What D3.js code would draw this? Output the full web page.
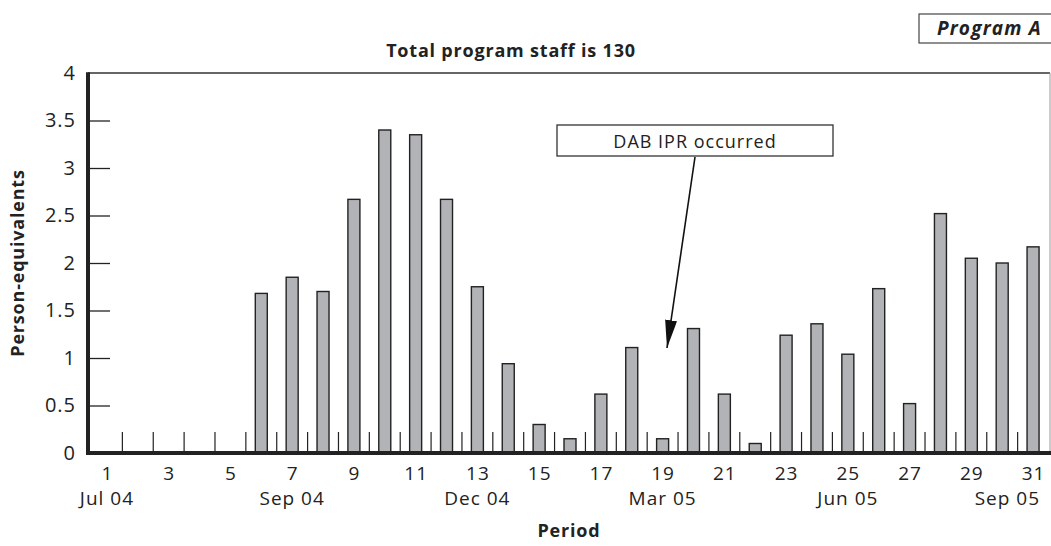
<!DOCTYPE html>
<html>
<head>
<meta charset="utf-8">
<script src="https://cdn.jsdelivr.net/npm/d3@7"></script>
<style>
  body { margin: 0; background: #fff; }
  svg { display: block; font-family: "Open Sans", sans-serif; }
</style>
</head>
<body>
<div id="chart"></div>
<script>
// Person-equivalents per period (periods 1..31)
const periods = d3.range(1, 32);
const personEquivalents = [
  0, 0, 0, 0, 0, 1.68, 1.85, 1.70, 2.67, 3.40,
  3.35, 2.67, 1.75, 0.94, 0.30, 0.15, 0.62, 1.11, 0.15, 1.31,
  0.62, 0.10, 1.24, 1.36, 1.04, 1.73, 0.52, 2.52, 2.05, 2.00,
  2.17
];
const periodLabels = [1, 3, 5, 7, 9, 11, 13, 15, 17, 19, 21, 23, 25, 27, 29, 31];
const monthLabels = [
  { period: 1, text: 'Jul 04' },
  { period: 7, text: 'Sep 04' },
  { period: 13, text: 'Dec 04' },
  { period: 19, text: 'Mar 05' },
  { period: 25, text: 'Jun 05' },
  { period: 31, text: 'Sep 05' }
];
const yTicks = [0, 0.5, 1, 1.5, 2, 2.5, 3, 3.5, 4];

const width = 1051, height = 546;
const plotLeft = 91.5, plotRight = 1048.5, plotTop = 73, plotBottom = 453;

const svg = d3.select('#chart').append('svg')
  .attr('width', width)
  .attr('height', height);

// Scales
const x = d3.scaleBand().domain(periods).range([plotLeft, plotRight]).padding(0);
const xb = d3.scaleLinear().domain([0.5, 31.5]).range([plotLeft, plotRight]);
const y = d3.scaleLinear().domain([0, 4]).range([plotBottom, plotTop]);

// Frame: top and right borders
svg.append('line')
  .attr('x1', 88).attr('x2', 1050)
  .attr('y1', y(4)).attr('y2', y(4))
  .attr('stroke', '#333').attr('stroke-width', 1.5);
svg.append('line')
  .attr('x1', 1050).attr('x2', 1050)
  .attr('y1', y(4)).attr('y2', plotBottom)
  .attr('stroke', '#999').attr('stroke-width', 1);

// Y axis: inward ticks
const yAxis = d3.axisLeft(y)
  .tickValues(yTicks)
  .tickSize(0)
  .tickPadding(12)
  .tickFormat(d => d);

svg.append('g')
  .attr('transform', 'translate(88,0)')
  .call(yAxis)
  .call(g => g.select('.domain').remove())
  .call(g => g.selectAll('.tick text')
    .attr('font-size', 20)
    .attr('letter-spacing', 1)
    .attr('font-family', '"Open Sans", sans-serif')
    .attr('fill', '#222'))
  .call(g => g.selectAll('.tick').filter(d => d > 0 && d < 4)
    .append('line')
    .attr('x1', 2).attr('x2', 22)
    .attr('stroke', '#222').attr('stroke-width', 1.3));

// Minor ticks between periods
svg.append('g')
  .selectAll('line')
  .data(d3.range(1, 31))
  .join('line')
  .attr('x1', d => xb(d + 0.5))
  .attr('x2', d => xb(d + 0.5))
  .attr('y1', plotBottom)
  .attr('y2', plotBottom - 21)
  .attr('stroke', '#222')
  .attr('stroke-width', 1.2);

// Bars
const barW = 12;
svg.append('g')
  .selectAll('rect')
  .data(periods.filter((p, i) => personEquivalents[i] > 0))
  .join('rect')
  .attr('x', p => x(p) + x.bandwidth() / 2 - barW / 2)
  .attr('y', p => y(personEquivalents[p - 1]))
  .attr('width', barW)
  .attr('height', p => plotBottom - y(personEquivalents[p - 1]))
  .attr('fill', '#b2b3b7')
  .attr('stroke', '#222')
  .attr('stroke-width', 1.4);

// Axis lines (thick)
svg.append('line')
  .attr('x1', 88).attr('x2', 88)
  .attr('y1', y(4) - 0.75).attr('y2', plotBottom + 2)
  .attr('stroke', '#222').attr('stroke-width', 4);
svg.append('line')
  .attr('x1', 86).attr('x2', width)
  .attr('y1', plotBottom).attr('y2', plotBottom)
  .attr('stroke', '#222').attr('stroke-width', 4);

// X axis labels: periods
const xAxis = d3.axisBottom(xb)
  .tickValues(periodLabels)
  .tickSize(0)
  .tickPadding(14)
  .tickFormat(d => d);

svg.append('g')
  .attr('transform', `translate(0,${plotBottom})`)
  .call(xAxis)
  .call(g => g.select('.domain').remove())
  .call(g => g.selectAll('.tick text')
    .attr('font-size', 19)
    .attr('letter-spacing', 1)
    .attr('font-family', '"Open Sans", sans-serif')
    .attr('fill', '#222'));

// Month labels
svg.append('g')
  .selectAll('text')
  .data(monthLabels)
  .join('text')
  .attr('x', d => d.period === 31 ? xb(d.period) + 7 : xb(d.period))
  .attr('y', 505)
  .attr('text-anchor', d => d.period === 31 ? 'end' : 'middle')
  .attr('font-size', 19)
  .attr('letter-spacing', 1)
  .attr('fill', '#222')
  .text(d => d.text);

// Axis titles
svg.append('text')
  .attr('x', 569).attr('y', 537)
  .attr('text-anchor', 'middle')
  .attr('font-size', 18).attr('font-weight', 'bold')
  .attr('letter-spacing', 0.8)
  .attr('fill', '#222')
  .text('Period');

svg.append('text')
  .attr('transform', `translate(24,${(plotTop + plotBottom) / 2}) rotate(-90)`)
  .attr('text-anchor', 'middle')
  .attr('font-size', 18).attr('font-weight', 'bold')
  .attr('letter-spacing', 0.8)
  .attr('fill', '#222')
  .text('Person-equivalents');

// Chart title
svg.append('text')
  .attr('x', 511).attr('y', 57)
  .attr('text-anchor', 'middle')
  .attr('font-size', 18).attr('font-weight', 'bold')
  .attr('letter-spacing', 0.8)
  .attr('fill', '#222')
  .text('Total program staff is 130');

// Program A box
svg.append('rect')
  .attr('x', 919).attr('y', 14)
  .attr('width', 140).attr('height', 29)
  .attr('fill', '#fff')
  .attr('stroke', '#444').attr('stroke-width', 1.2);
svg.append('text')
  .attr('x', 1042).attr('y', 35)
  .attr('text-anchor', 'end')
  .attr('font-size', 19).attr('font-weight', 'bold').attr('font-style', 'italic')
  .attr('letter-spacing', 1.2)
  .attr('fill', '#222')
  .text('Program A');

// Annotation
const defs = svg.append('defs');
defs.append('marker')
  .attr('id', 'arrow')
  .attr('viewBox', '0 0 10 10')
  .attr('refX', 10).attr('refY', 5)
  .attr('markerUnits', 'userSpaceOnUse')
  .attr('markerWidth', 28).attr('markerHeight', 12)
  .attr('orient', 'auto')
  .attr('preserveAspectRatio', 'none')
  .append('path')
  .attr('d', 'M0,0L10,5L0,10Z')
  .attr('fill', '#111');

svg.append('line')
  .attr('x1', 695).attr('y1', 157)
  .attr('x2', 667).attr('y2', 348)
  .attr('stroke', '#111').attr('stroke-width', 1.6)
  .attr('marker-end', 'url(#arrow)');

svg.append('rect')
  .attr('x', 557).attr('y', 125)
  .attr('width', 276).attr('height', 31)
  .attr('fill', '#fff')
  .attr('stroke', '#333').attr('stroke-width', 1.3);
svg.append('text')
  .attr('x', 695).attr('y', 148)
  .attr('text-anchor', 'middle')
  .attr('font-size', 18)
  .attr('letter-spacing', 1)
  .attr('fill', '#222')
  .text('DAB IPR occurred');
</script>
</body>
</html>
